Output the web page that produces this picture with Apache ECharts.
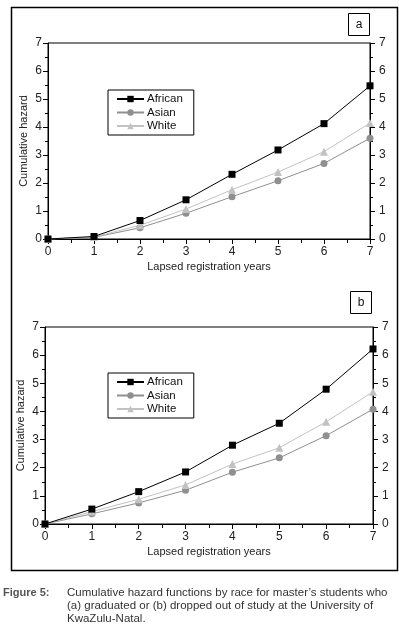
<!DOCTYPE html>
<html>
<head>
<meta charset="utf-8">
<script src="https://cdn.jsdelivr.net/npm/echarts@6/dist/echarts.min.js"></script>
<style>
  html, body { margin: 0; padding: 0; background: #fff; }
  #hazard { width: 399px; height: 628px; }
</style>
</head>
<body>
<div id="hazard"></div>
<script>
var years = [0, 1, 2, 3, 4, 5, 6, 7];
var races = ['African', 'Asian', 'White'];
// (a) graduated
var africanGrad = [0, 0.09, 0.66, 1.40, 2.31, 3.18, 4.12, 5.47];
var asianGrad = [0, 0.06, 0.40, 0.92, 1.51, 2.08, 2.70, 3.60];
var whiteGrad = [0, 0.07, 0.49, 1.07, 1.76, 2.39, 3.12, 4.14];
// (b) dropped out
var africanDrop = [0, 0.53, 1.15, 1.85, 2.80, 3.58, 4.79, 6.22];
var asianDrop = [0, 0.36, 0.75, 1.20, 1.84, 2.35, 3.14, 4.08];
var whiteDrop = [0, 0.44, 0.88, 1.39, 2.13, 2.71, 3.63, 4.70];
var yTicks = [0, 1, 2, 3, 4, 5, 6, 7];

var font = '"Liberation Sans Narrow", "Liberation Sans", Arial, sans-serif';
var colors = { African: '#000000', Asian: '#8f8f8f', White: '#c2c2c2' };
var symbols = { African: ['rect', 7], Asian: ['circle', 7], White: ['triangle', 8] };

function pairs(vals) {
    return years.map(function (x, i) { return [x, vals[i]]; });
}

function xAxis(idx) {
    return {
        type: 'value', gridIndex: idx, min: 0, max: 7, interval: 1,
        name: 'Lapsed registration years', nameLocation: 'middle', nameGap: 22,
        nameMoveOverlap: false,
        nameTextStyle: { fontFamily: font, fontSize: 11, color: '#222' },
        axisLine: { lineStyle: { color: '#000', width: 1 } },
        axisTick: { length: 5, lineStyle: { color: '#000' } },
        minorTick: { show: true, splitNumber: 2, length: 4, lineStyle: { color: '#000' } },
        splitLine: { show: false },
        axisLabel: { margin: 7, fontFamily: font, fontSize: 12, color: '#222' }
    };
}

function yAxis(idx, pos) {
    var ax = {
        type: 'value', gridIndex: idx, position: pos, min: 0, max: 7, interval: 1,
        axisLine: { show: true, lineStyle: { color: '#000', width: 1 } },
        axisTick: { show: true, length: 5, lineStyle: { color: '#000' } },
        minorTick: { show: true, splitNumber: 2, length: 3, lineStyle: { color: '#000' } },
        splitLine: { show: false },
        axisLabel: {
            margin: pos === 'left' ? 6 : 9, fontFamily: font, fontSize: 12, color: '#222',
            formatter: function (v) { return yTicks.indexOf(v) >= 0 ? String(v) : ''; }
        }
    };
    if (pos === 'left') {
        ax.name = 'Cumulative hazard';
        ax.nameLocation = 'middle';
        ax.nameGap = 19;
        ax.nameMoveOverlap = false;
        ax.nameTextStyle = { fontFamily: font, fontSize: 11, color: '#222' };
    }
    return ax;
}

function lineSeries(name, vals, idx) {
    return {
        name: name, type: 'line', xAxisIndex: idx, yAxisIndex: idx * 2,
        data: pairs(vals),
        symbol: symbols[name][0], symbolSize: symbols[name][1],
        showSymbol: true,
        lineStyle: { color: colors[name], width: 1 },
        itemStyle: { color: colors[name] },
        z: name === 'African' ? 4 : 3
    };
}

function legend(top) {
    return {
        data: races, orient: 'vertical', left: 108, top: top,
        itemWidth: 27, itemHeight: 8, itemGap: 1.5,
        borderColor: '#000', borderWidth: 1, borderRadius: 0,
        padding: [3, 11, 3, 8],
        selectedMode: false,
        textStyle: { fontFamily: font, fontSize: 11.5, color: '#111', padding: [0, 0, 0, -2] }
    };
}

function panelBox(x, y, label) {
    return {
        type: 'group', left: x, top: y,
        children: [
            { type: 'rect', shape: { x: 0, y: 0, width: 21, height: 22 },
              style: { fill: '#fff', stroke: '#000', lineWidth: 1 } },
            { type: 'text', x: 10.5, y: 11,
              style: { text: label, fontFamily: font, fontSize: 12, fill: '#111',
                       align: 'center', verticalAlign: 'middle' } }
        ]
    };
}

var captionLines = [
    'Cumulative hazard functions by race for master\u2019s students who',
    '(a) graduated or (b) dropped out of study at the University of',
    'KwaZulu-Natal.'
];

var chart = echarts.init(document.getElementById('hazard'));
chart.setOption({
    animation: false,
    backgroundColor: '#fff',
    grid: [
        { left: 48, right: 29, top: 43, height: 196, show: true, borderColor: '#000', borderWidth: 1 },
        { left: 45, right: 26, top: 327, height: 197, show: true, borderColor: '#000', borderWidth: 1 }
    ],
    xAxis: [xAxis(0), xAxis(1)],
    yAxis: [yAxis(0, 'left'), yAxis(0, 'right'), yAxis(1, 'left'), yAxis(1, 'right')],
    legend: [legend(90), legend(373)],
    graphic: [
        { type: 'rect', left: 9, top: 5,
          shape: { x: 0, y: 0, width: 386, height: 563 },
          style: { fill: null, stroke: '#000', lineWidth: 1.5 }, z: -10 },
        panelBox(348, 13, 'a'),
        panelBox(350, 291, 'b'),
        { type: 'text', left: 3, top: 587,
          style: { text: 'Figure 5:', fontFamily: font, fontSize: 11, fontWeight: 'bold', fill: '#555' } },
        { type: 'text', left: 67, top: 587,
          style: { text: captionLines[0], fontFamily: font, fontSize: 11.5, fill: '#333' } },
        { type: 'text', left: 67, top: 600,
          style: { text: captionLines[1], fontFamily: font, fontSize: 11.5, fill: '#333' } },
        { type: 'text', left: 67, top: 613,
          style: { text: captionLines[2], fontFamily: font, fontSize: 11.5, fill: '#333' } }
    ],
    series: [
        lineSeries('African', africanGrad, 0),
        lineSeries('Asian', asianGrad, 0),
        lineSeries('White', whiteGrad, 0),
        lineSeries('African', africanDrop, 1),
        lineSeries('Asian', asianDrop, 1),
        lineSeries('White', whiteDrop, 1)
    ]
});
</script>
</body>
</html>
